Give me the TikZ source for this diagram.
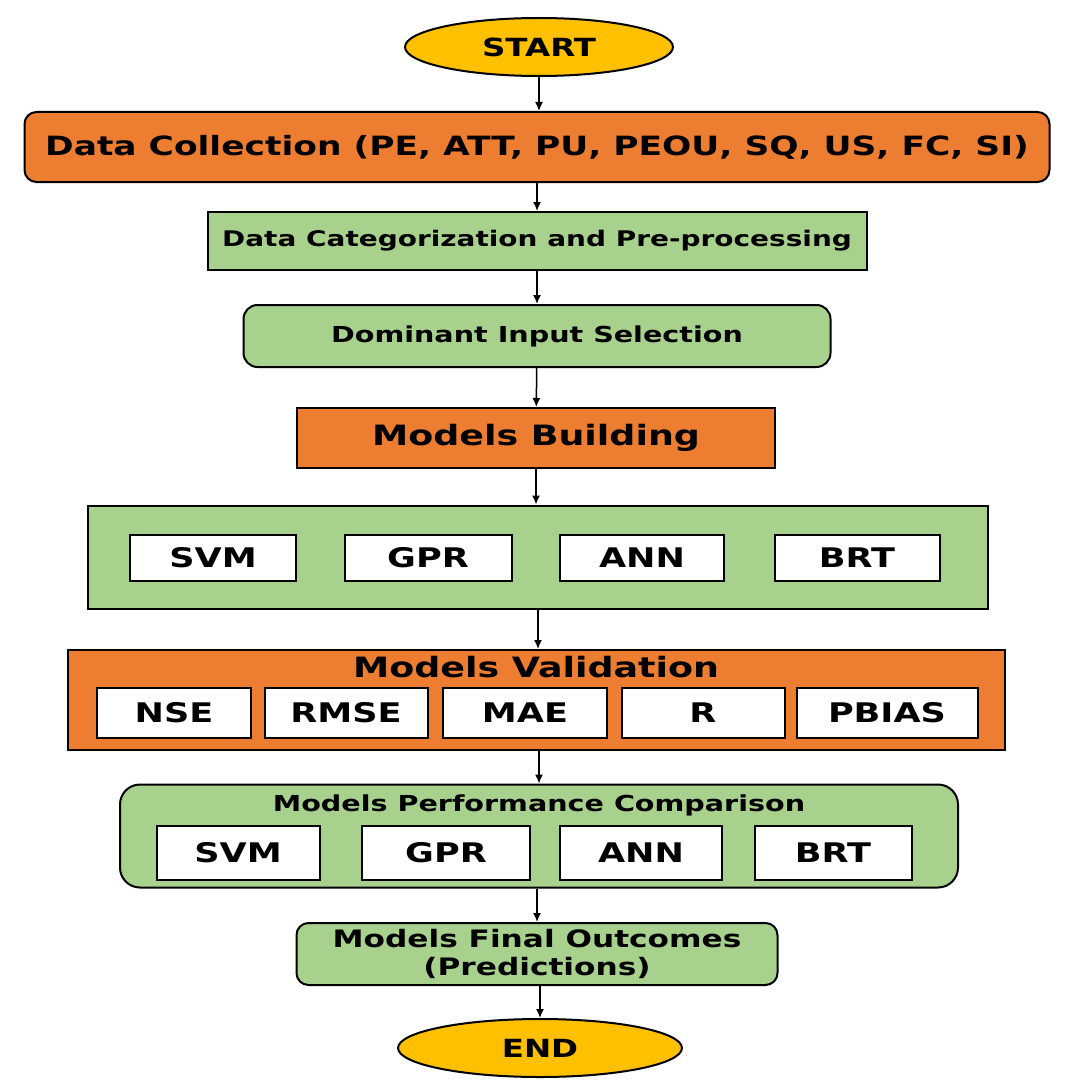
\documentclass[tikz,border=0pt]{standalone}
\usepackage{fontspec}
\setmainfont{DejaVu Sans}[FakeStretch=1.3]
\usetikzlibrary{shapes.geometric,arrows.meta}
\definecolor{org}{HTML}{ED7D31}
\definecolor{grn}{HTML}{A9D18E}
\definecolor{yel}{HTML}{FFC000}
\newcommand{\fs}[1]{\fontsize{#1}{#1}\selectfont}
\begin{document}
\begin{tikzpicture}[x=1pt,y=-1pt,
  base/.style={draw=black,line width=2pt,font=\bfseries,inner sep=0pt},
  oval/.style={base,ellipse,fill=yel},
  og/.style={base,fill=org},
  gn/.style={base,fill=grn},
  wb/.style={base,fill=white,font=\bfseries\fs{27}},
  arr/.style={-{Latex[length=9pt,width=8pt]},line width=1.5pt}]
\useasboundingbox (0,0) rectangle (1075,1089);
\node[oval,minimum width=268pt,minimum height=58pt,font=\bfseries\fs{25}] (start) at (539,47) {START};
\node[og,rounded corners=12pt,minimum width=1025pt,minimum height=70pt,font=\bfseries\fs{26.5}] (dc) at (537,147) {Data Collection (PE, ATT, PU, PEOU, SQ, US, FC, SI)};
\node[gn,minimum width=659pt,minimum height=58pt,font=\bfseries\fs{21.5}] (cat) at (537,241) {Data Categorization and Pre-processing};
\node[gn,rounded corners=14pt,minimum width=587pt,minimum height=62pt,font=\bfseries\fs{22}] (dom) at (537,336) {Dominant Input Selection};
\node[og,minimum width=478pt,minimum height=60pt,font=\bfseries\fs{28}] (mb) at (536,438) {Models Building};
\node[gn,minimum width=900pt,minimum height=103pt] (g1) at (538,557) {};
\foreach \n/\x/\w/\t in {s1/213/166/SVM,g1b/428/167/GPR,a1/642/164/ANN,b1/857/165/BRT}
  \node[wb,minimum width=\w pt,minimum height=46pt] (\n) at (\x,558) {\t};
\node[og,minimum width=937pt,minimum height=100pt] (mv) at (536,700) {};
\node[font=\bfseries\fs{28}] (mvt) at (536,667) {Models Validation};
\foreach \n/\x/\w/\t in {v1/174/154/NSE,v2/346/163/RMSE,v3/525/164/MAE,v4/703/163/R,v5/887/181/PBIAS}
  \node[wb,minimum width=\w pt,minimum height=50pt] (\n) at (\x,713) {\t};
\node[gn,rounded corners=20pt,minimum width=838pt,minimum height=103pt] (pc) at (539,836) {};
\node[font=\bfseries\fs{22}] (pct) at (539,805) {Models Performance Comparison};
\foreach \n/\x/\w/\t in {s2/238/163/SVM,g2/446/168/GPR,a2/641/162/ANN,b2/833/157/BRT}
  \node[wb,minimum width=\w pt,minimum height=54pt] (\n) at (\x,853) {\t};
\node[gn,rounded corners=12pt,minimum width=481pt,minimum height=62pt,align=center,font=\bfseries\fs{24}] (fo) at (537,954) {Models Final Outcomes\\[4pt](Predictions)};
\node[oval,minimum width=284pt,minimum height=58pt,font=\bfseries\fs{25}] (end) at (540,1048) {END};
\draw[arr] (start) -- (start|-dc.north);
\draw[arr] (dc.south-|cat) -- (cat);
\draw[arr] (cat) -- (dom);
\draw[arr] (dom) -- (mb);
\draw[arr] (mb) -- (mb|-g1.north);
\draw[arr] (g1) -- (g1|-mv.north);
\draw[arr] (mv.south-|pc) -- (pc);
\draw[arr] (pc.south-|fo) -- (fo);
\draw[arr] (fo.south-|end) -- (end);
\end{tikzpicture}
\end{document}
